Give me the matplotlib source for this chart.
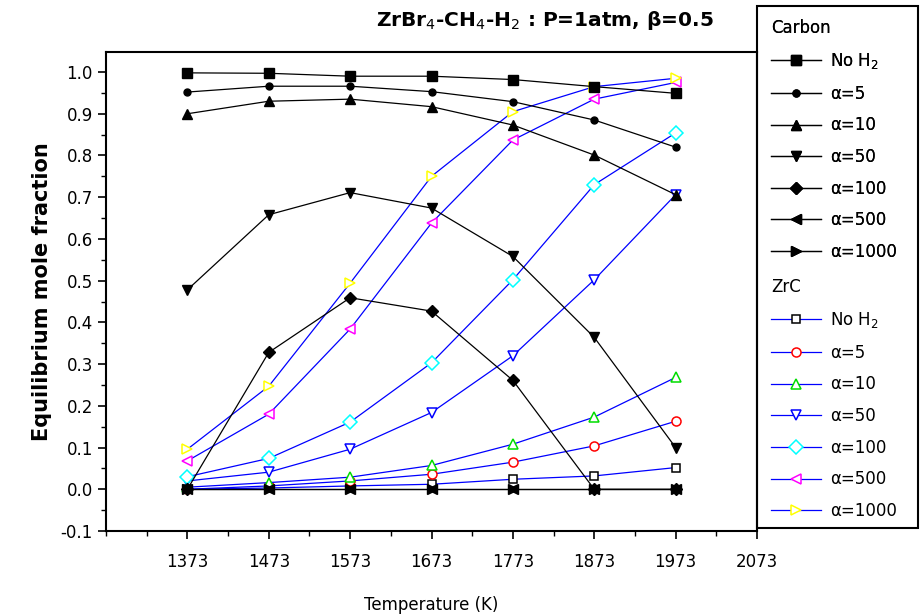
import matplotlib
matplotlib.use("Agg")
import matplotlib.pyplot as plt
from matplotlib.patches import Rectangle
import numpy as np

plt.rcParams['font.family'] = ['DejaVu Sans']

temps = [1373, 1473, 1573, 1673, 1773, 1873, 1973]
series_labels = ["No H$_2$", "α=5", "α=10", "α=50", "α=100", "α=500", "α=1000"]

carbon_noh2 = [0.998, 0.997, 0.990, 0.990, 0.982, 0.965, 0.949]
carbon_a5 = [0.952, 0.966, 0.966, 0.953, 0.929, 0.885, 0.820]
carbon_a10 = [0.900, 0.930, 0.935, 0.917, 0.873, 0.801, 0.706]
carbon_a50 = [0.478, 0.658, 0.711, 0.674, 0.558, 0.364, 0.100]
carbon_a100 = [0.000, 0.328, 0.459, 0.427, 0.261, 0.000, 0.000]
carbon_a500 = [0.000, 0.000, 0.000, 0.000, 0.000, 0.000, 0.000]
carbon_a1000 = [0.000, 0.000, 0.000, 0.000, 0.000, 0.000, 0.000]

zrc_noh2 = [0.000, 0.003, 0.008, 0.012, 0.024, 0.032, 0.052]
zrc_a5 = [0.000, 0.008, 0.020, 0.036, 0.065, 0.104, 0.163]
zrc_a10 = [0.005, 0.016, 0.029, 0.057, 0.108, 0.173, 0.268]
zrc_a50 = [0.020, 0.041, 0.096, 0.184, 0.320, 0.502, 0.706]
zrc_a100 = [0.030, 0.074, 0.161, 0.303, 0.502, 0.730, 0.854]
zrc_a500 = [0.068, 0.180, 0.384, 0.638, 0.837, 0.935, 0.975]
zrc_a1000 = [0.096, 0.247, 0.494, 0.750, 0.905, 0.965, 0.985]

carbon = [carbon_noh2, carbon_a5, carbon_a10, carbon_a50, carbon_a100, carbon_a500, carbon_a1000]
zrc = [zrc_noh2, zrc_a5, zrc_a10, zrc_a50, zrc_a100, zrc_a500, zrc_a1000]

carbon_markers = ['s', 'o', '^', 'v', 'D', '<', '>']
carbon_msizes = [6.5, 5, 7.5, 7.5, 6.5, 7.5, 7.5]
zrc_markers = ['s', 'o', '^', 'v', 'D', '<', '>']
zrc_colors = ['black', 'red', '#00dd00', 'blue', 'cyan', 'magenta', 'yellow']
zrc_msizes = [5.5, 6.5, 7.5, 7.5, 7.5, 7.5, 7.5]

fig = plt.figure(figsize=(9.21, 6.16), dpi=100)
ax = fig.add_axes([106/921, 1-531/616, (757-106)/921, (531-52)/616])

carbon_handles = []
for vals, m, ms in zip(carbon, carbon_markers, carbon_msizes):
    h, = ax.plot(temps, vals, color='black', lw=0.9, marker=m, ms=ms,
                 mfc='black', mec='black', zorder=3)
    carbon_handles.append(h)

zrc_handles = []
for vals, m, c, ms in zip(zrc, zrc_markers, zrc_colors, zrc_msizes):
    h, = ax.plot(temps, vals, color='blue', lw=0.9, marker=m, ms=ms,
                 mfc='white', mec=c, mew=1.1, zorder=2)
    zrc_handles.append(h)

ax.set_xlim(1273, 2073)
ax.set_ylim(-0.1, 1.048)
ax.set_xticks([1373, 1473, 1573, 1673, 1773, 1873, 1973, 2073])
ax.set_xticks(np.arange(1273, 2074, 50), minor=True)
ax.set_yticks(np.round(np.arange(-0.1, 1.01, 0.1), 1))
ax.set_yticks(np.arange(-0.1, 1.04, 0.05), minor=True)
ax.set_yticklabels([f"{v:.1f}" for v in np.round(np.arange(-0.1, 1.01, 0.1), 1)])
ax.tick_params(axis='both', which='major', direction='out', length=6, width=1.2, labelsize=12)
ax.tick_params(axis='both', which='minor', direction='out', length=3.5, width=1.0)
ax.tick_params(axis='x', pad=10)
for s in ax.spines.values():
    s.set_linewidth(1.5)

ax.set_xlabel("Temperature (K)", fontsize=12, labelpad=18)
ax.set_ylabel("Equilibrium mole fraction", fontsize=15, fontweight='bold', labelpad=6)

fig.text(545/921, 1-20/616, "ZrBr$_4$-CH$_4$-H$_2$ : P=1atm, β=0.5",
         ha='center', va='center', fontsize=14.5, fontweight='bold')

# legend box
fig.patches.append(Rectangle((757/921, 1-528/616), (918-757)/921, (528-6)/616,
                             transform=fig.transFigure, fill=False, lw=1.5,
                             edgecolor='black'))

leg1 = fig.legend(carbon_handles, series_labels, title="Carbon",
                  loc='upper left', bbox_to_anchor=(758/921, 1-6/616),
                  frameon=False, fontsize=12, title_fontsize=12,
                  handlelength=3.0, numpoints=1, labelspacing=0.82,
                  handletextpad=0.5, borderpad=0.3, alignment='left')
leg2 = fig.legend(zrc_handles, series_labels, title="ZrC",
                  loc='upper left', bbox_to_anchor=(758/921, 1-265/616),
                  frameon=False, fontsize=12, title_fontsize=12,
                  handlelength=3.0, numpoints=1, labelspacing=0.82,
                  handletextpad=0.5, borderpad=0.3, alignment='left')
fig.add_artist(leg1)

fig.savefig("out.png", dpi=100)
